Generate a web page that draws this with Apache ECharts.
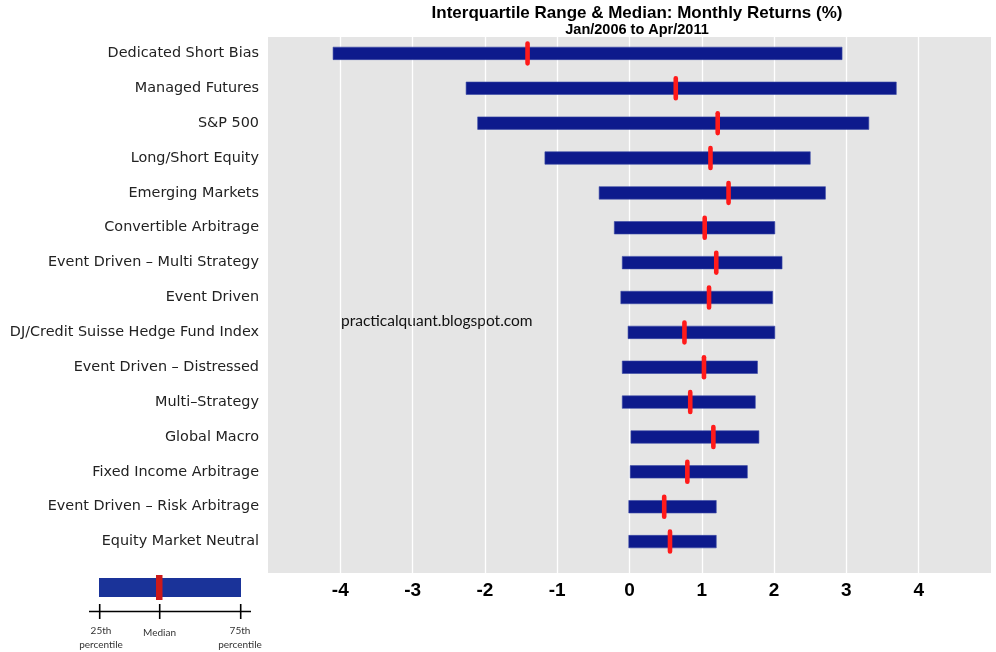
<!DOCTYPE html>
<html>
<head>
<meta charset="utf-8">
<script src="https://cdn.jsdelivr.net/npm/echarts@6/dist/echarts.min.js"></script>
<style>
  html, body { margin: 0; padding: 0; background: #fff; }
  #chart { width: 996px; height: 652px; }
</style>
</head>
<body>
<div id="chart"></div>
<script>
const categories = [
  'Dedicated Short Bias',
  'Managed Futures',
  'S&P 500',
  'Long/Short Equity',
  'Emerging Markets',
  'Convertible Arbitrage',
  'Event Driven – Multi Strategy',
  'Event Driven',
  'DJ/Credit Suisse Hedge Fund Index',
  'Event Driven – Distressed',
  'Multi–Strategy',
  'Global Macro',
  'Fixed Income Arbitrage',
  'Event Driven – Risk Arbitrage',
  'Equity Market Neutral'
];
const q1Values     = [-4.10, -2.26, -2.10, -1.17, -0.42, -0.21, -0.10, -0.12, -0.02, -0.10, -0.10, 0.02, 0.01, -0.01, -0.01];
const medianValues = [-1.41,  0.64,  1.22,  1.12,  1.37,  1.04,  1.20,  1.10,  0.76,  1.03,  0.84, 1.16, 0.80,  0.48,  0.56];
const q3Values     = [ 2.94,  3.69,  3.31,  2.50,  2.71,  2.01,  2.11,  1.98,  2.01,  1.77,  1.74, 1.79, 1.63,  1.20,  1.20];

const titleText = 'Interquartile Range & Median: Monthly Returns (%)';
const subtitleText = 'Jan/2006 to Apr/2011';
const watermarkText = 'practicalquant.blogspot.com';

const chart = echarts.init(document.getElementById('chart'), null, { renderer: 'canvas' });

const iqrData = categories.map((c, i) => [i, q1Values[i], q3Values[i]]);
const medData = categories.map((c, i) => [i, medianValues[i]]);

const option = {
  backgroundColor: '#ffffff',
  animation: false,
  title: [
    {
      text: titleText,
      left: 632, top: 0, textAlign: 'center',
      textStyle: { fontFamily: 'Liberation Sans, Arial, sans-serif', fontWeight: 'bold', fontSize: 17, color: '#000' }
    },
    {
      text: subtitleText,
      left: 632, top: 17, textAlign: 'center',
      textStyle: { fontFamily: 'Liberation Sans, Arial, sans-serif', fontWeight: 'bold', fontSize: 14.5, color: '#000' }
    }
  ],
  grid: {
    left: 268, right: 5, top: 37, bottom: 79,
    show: true, backgroundColor: '#e5e5e5', borderWidth: 0,
    containLabel: false
  },
  xAxis: {
    type: 'value', min: -5, max: 5, interval: 1,
    axisLine: { show: false }, axisTick: { show: false },
    splitLine: { show: true, showMinLine: false, showMaxLine: false, lineStyle: { color: '#ffffff', width: 1.3 } },
    axisLabel: {
      showMinLabel: false, showMaxLabel: false, margin: 8,
      fontFamily: 'Liberation Sans Narrow, Arial Narrow, Liberation Sans, sans-serif',
      fontWeight: 'bold', fontSize: 19, color: '#000'
    }
  },
  yAxis: {
    type: 'value', inverse: true, min: -0.47, max: 14.9,
    axisLine: { show: false }, axisTick: { show: false }, splitLine: { show: false },
    axisLabel: {
      customValues: categories.map((c, i) => i),
      formatter: v => categories[Math.round(v)] || '',
      margin: 9, fontFamily: 'DejaVu Sans, sans-serif', fontSize: 14.4, color: '#222'
    }
  },
  series: [
    {
      type: 'custom', name: 'IQR',
      encode: { x: [1, 2], y: 0 },
      data: iqrData,
      renderItem: function (params, api) {
        const i = api.value(0);
        const p0 = api.coord([api.value(1), i]);
        const p1 = api.coord([api.value(2), i]);
        const h = 12.5;
        return {
          type: 'rect',
          shape: { x: p0[0], y: p0[1] - h / 2, width: p1[0] - p0[0], height: h },
          style: { fill: '#0d1a8c', stroke: '#3b4aa6', lineWidth: 0.6 }
        };
      }
    },
    {
      type: 'custom', name: 'Median',
      encode: { x: 1, y: 0 },
      data: medData,
      z: 3,
      renderItem: function (params, api) {
        const p = api.coord([api.value(1), api.value(0)]);
        const w = 4.6, h = 24.5;
        return {
          type: 'rect',
          shape: { x: p[0] - w / 2, y: p[1] - h / 2, width: w, height: h, r: 2.3 },
          style: { fill: '#ff1a1a' }
        };
      }
    }
  ],
  graphic: [
    {
      type: 'text', left: 341, top: 313,
      style: { text: watermarkText, fontFamily: 'Lato, Liberation Sans, sans-serif', fontSize: 15.5, fill: '#111' }
    },
    { type: 'rect', shape: { x: 99, y: 578, width: 142, height: 19 }, style: { fill: '#1a3399' } },
    { type: 'rect', shape: { x: 156, y: 575, width: 6.5, height: 25 }, style: { fill: '#cc1a1a' } },
    { type: 'line', shape: { x1: 89, y1: 611.5, x2: 251, y2: 611.5 }, style: { stroke: '#000', lineWidth: 1.6 } },
    { type: 'line', shape: { x1: 99.7, y1: 604, x2: 99.7, y2: 619 }, style: { stroke: '#000', lineWidth: 1.6 } },
    { type: 'line', shape: { x1: 159.7, y1: 604, x2: 159.7, y2: 619 }, style: { stroke: '#000', lineWidth: 1.6 } },
    { type: 'line', shape: { x1: 240.7, y1: 604, x2: 240.7, y2: 619 }, style: { stroke: '#000', lineWidth: 1.6 } },
    { type: 'text', x: 101, y: 638, style: { text: '25th\npercentile', align: 'center', verticalAlign: 'middle', lineHeight: 14, fontFamily: 'Lato, Liberation Sans, sans-serif', fontSize: 10, fill: '#333' } },
    { type: 'text', x: 159.5, y: 633, style: { text: 'Median', align: 'center', verticalAlign: 'middle', fontFamily: 'Lato, Liberation Sans, sans-serif', fontSize: 10, fill: '#333' } },
    { type: 'text', x: 240, y: 638, style: { text: '75th\npercentile', align: 'center', verticalAlign: 'middle', lineHeight: 14, fontFamily: 'Lato, Liberation Sans, sans-serif', fontSize: 10, fill: '#333' } }
  ]
};
chart.setOption(option);
</script>
</body>
</html>
